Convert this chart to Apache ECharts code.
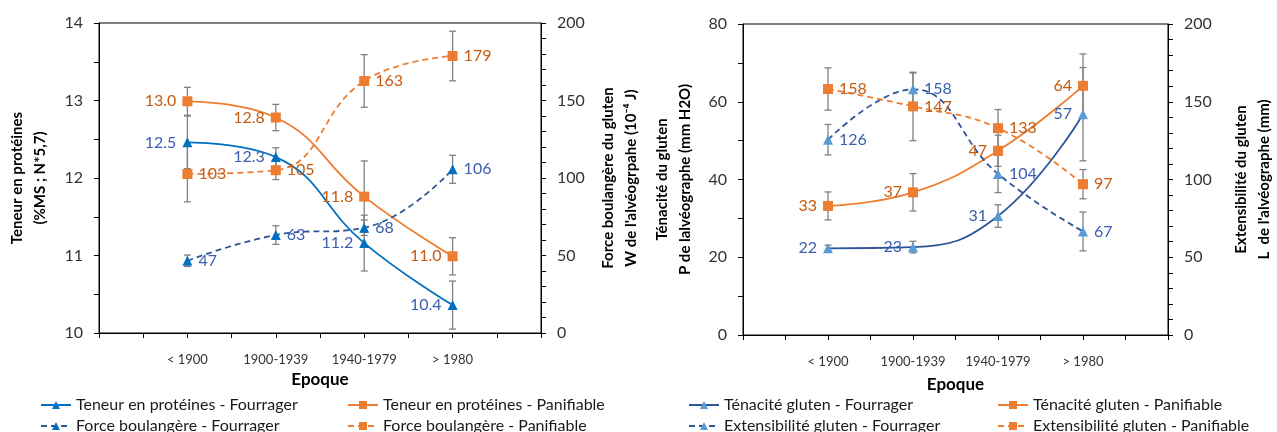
<!DOCTYPE html>
<html>
<head>
<meta charset="utf-8">
<script src="https://cdn.jsdelivr.net/npm/echarts@6/dist/echarts.min.js"></script>
<style>
  html, body { margin: 0; padding: 0; background: #fff; }
  #main { width: 1277px; height: 432px; }
</style>
</head>
<body>
<div id="main"></div>
<script>
// epochs
const categories = ['< 1900', '1900-1939', '1940-1979', '> 1980'];

// left chart : teneur en protéines (left axis) / force boulangère (right axis)
const teneurFourrager = [12.46, 12.27, 11.16, 10.36];
const teneurFourragerErr = [0.34, 0.12, 0.36, 0.31];
const teneurPanifiable = [12.99, 12.78, 11.76, 10.99];
const teneurPanifiableErr = [0.18, 0.17, 0.46, 0.24];
const forceFourrager = [46.6, 63.2, 67.9, 105.6];
const forceFourragerErr = [3.7, 6, 5, 9];
const forcePanifiable = [102.6, 105, 162.6, 178.7];
const forcePanifiableErr = [18, 6, 17, 16];

// right chart : ténacité (left axis) / extensibilité (right axis)
const tenaciteFourrager = [22.3, 22.6, 30.6, 56.8];
const tenaciteFourragerErr = [0.8, 1.5, 2.9, 12];
const tenacitePanifiable = [33.2, 36.7, 47.4, 64.1];
const tenacitePanifiableErr = [3.6, 4.8, 4, 8.2];
const extFourrager = [125.6, 158, 103.6, 66.6];
const extFourragerErr = [9.8, 10.5, 12, 12.5];
const extPanifiable = [158.2, 147, 133, 97];
const extPanifiableErr = [13.6, 22, 12, 9.4];

const FONT = 'Lato';
const BLUE = '#0070C0';
const NAVY = '#2F5597';
const LIGHTBLUE = '#5B9BD5';
const ORANGE = '#ED7D31';
const BLUE_LBL = '#3A5DAE';
const ORANGE_LBL = '#C55A11';

function xAxis(gridIndex, nameGap) {
    return {
        type: 'value', gridIndex: gridIndex, min: 0, max: 5, interval: 0.5,
        name: 'Epoque', nameLocation: 'middle', nameGap: nameGap,
        nameTextStyle: { fontFamily: FONT, fontSize: 17, fontWeight: 'bold', color: '#000' },
        axisLine: { lineStyle: { color: '#000', width: 1 } },
        axisTick: { show: true, length: 5, lineStyle: { color: '#000' } },
        axisLabel: {
            margin: 20, fontFamily: FONT, fontSize: 13, color: '#333',
            formatter: v => (Number.isInteger(v) && v >= 1 && v <= 4) ? categories[v - 1] : ''
        },
        splitLine: { show: false }
    };
}

function yAxis(gridIndex, pos, min, max, interval, labelStep, name, nameGap) {
    return {
        type: 'value', gridIndex: gridIndex, position: pos,
        min: min, max: max, interval: interval,
        name: name, nameLocation: 'middle', nameGap: nameGap, nameRotate: 90,
        nameTextStyle: { fontFamily: FONT, fontSize: 15, fontWeight: 'bold', color: '#000', lineHeight: 23 },
        axisLine: { show: true, lineStyle: { color: '#000', width: 1 } },
        axisTick: { show: true, length: 5, lineStyle: { color: '#000' } },
        axisLabel: {
            margin: 16, fontFamily: FONT, fontSize: 16, color: '#333',
            formatter: v => (Math.abs(v / labelStep - Math.round(v / labelStep)) < 1e-6) ? String(v) : ''
        },
        splitLine: { show: false }
    };
}

function line(name, vals, xi, yi, opt) {
    return {
        name: name, type: 'line', xAxisIndex: xi, yAxisIndex: yi, z: 3,
        data: vals.map((v, i) => [i + 1, v]),
        smooth: 0.45,
        symbol: opt.symbol, symbolSize: 10,
        itemStyle: { color: opt.marker },
        lineStyle: { color: opt.color, width: 1.8, type: opt.dashed ? [6, 4] : 'solid' },
        label: {
            show: true, position: opt.pos, distance: 6,
            fontFamily: FONT, fontSize: 16, color: opt.labelColor,
            formatter: p => p.value[1].toFixed(opt.digits)
        }
    };
}

function errorBars(vals, errs, xi, yi) {
    return {
        type: 'custom', xAxisIndex: xi, yAxisIndex: yi, z: 2, silent: true,
        data: vals.map((v, i) => [i + 1, v - errs[i], v + errs[i]]),
        encode: { x: 0, y: [1, 2] },
        renderItem: (params, api) => {
            const top = api.coord([api.value(0), api.value(2)]);
            const bot = api.coord([api.value(0), api.value(1)]);
            const w = 3.5;
            const st = { stroke: '#808080', lineWidth: 1.3 };
            return {
                type: 'group', children: [
                    { type: 'line', shape: { x1: top[0], y1: top[1], x2: bot[0], y2: bot[1] }, style: st },
                    { type: 'line', shape: { x1: top[0] - w, y1: top[1], x2: top[0] + w, y2: top[1] }, style: st },
                    { type: 'line', shape: { x1: bot[0] - w, y1: bot[1], x2: bot[0] + w, y2: bot[1] }, style: st }
                ]
            };
        }
    };
}

// one legend per entry so the two columns line up like in the original
function legend(name, left, top) {
    return {
        data: [name], left: left, top: top, padding: 0,
        itemWidth: 30, itemHeight: 10, itemGap: 0,
        textStyle: { fontFamily: FONT, fontSize: 16, color: '#1a1a1a' }
    };
}

const myChart = echarts.init(document.getElementById('main'));
const option = {
    animation: false,
    backgroundColor: '#fff',
    grid: [
        { left: 99, right: 736, top: 23, bottom: 99, show: true, borderColor: '#000', borderWidth: 1 },
        { left: 743, right: 101, top: 24, bottom: 97, show: true, borderColor: '#000', borderWidth: 1 }
    ],
    xAxis: [xAxis(0, 36), xAxis(1, 41)],
    yAxis: [
        yAxis(0, 'left', 10, 14, 0.5, 1, 'Teneur en protéines\n(%MS ; N*5,7)', 47),
        yAxis(0, 'right', 0, 200, 10, 50, 'Force boulangère du gluten\nW de l\'alvéogrpahe (10⁻⁴ J)', 56),
        yAxis(1, 'left', 0, 80, 10, 20, 'Ténacité du gluten\nP de lalvéographe (mm H2O)', 46),
        yAxis(1, 'right', 0, 200, 10, 50, 'Extensibilité du gluten\nL  de l\'alvéographe (mm)', 62)
    ],
    legend: [
        legend('Teneur en protéines - Fourrager', 40, 397),
        legend('Force boulangère - Fourrager', 40, 418),
        legend('Teneur en protéines - Panifiable', 347, 397),
        legend('Force boulangère - Panifiable', 347, 418),
        legend('Ténacité gluten - Fourrager', 688, 397),
        legend('Extensibilité gluten - Fourrager', 688, 418),
        legend('Ténacité gluten - Panifiable', 997, 397),
        legend('Extensibilité gluten - Panifiable', 997, 418)
    ],
    series: [
        errorBars(teneurFourrager, teneurFourragerErr, 0, 0),
        errorBars(teneurPanifiable, teneurPanifiableErr, 0, 0),
        errorBars(forceFourrager, forceFourragerErr, 0, 1),
        errorBars(forcePanifiable, forcePanifiableErr, 0, 1),
        errorBars(tenaciteFourrager, tenaciteFourragerErr, 1, 2),
        errorBars(tenacitePanifiable, tenacitePanifiableErr, 1, 2),
        errorBars(extFourrager, extFourragerErr, 1, 3),
        errorBars(extPanifiable, extPanifiableErr, 1, 3),

        line('Teneur en protéines - Fourrager', teneurFourrager, 0, 0,
            { symbol: 'triangle', color: BLUE, marker: BLUE, pos: 'left', labelColor: BLUE_LBL, digits: 1 }),
        line('Teneur en protéines - Panifiable', teneurPanifiable, 0, 0,
            { symbol: 'rect', color: ORANGE, marker: ORANGE, pos: 'left', labelColor: ORANGE_LBL, digits: 1 }),
        line('Force boulangère - Fourrager', forceFourrager, 0, 1,
            { symbol: 'triangle', color: NAVY, marker: BLUE, dashed: true, pos: 'right', labelColor: BLUE_LBL, digits: 0 }),
        line('Force boulangère - Panifiable', forcePanifiable, 0, 1,
            { symbol: 'rect', color: ORANGE, marker: ORANGE, dashed: true, pos: 'right', labelColor: ORANGE_LBL, digits: 0 }),

        line('Ténacité gluten - Fourrager', tenaciteFourrager, 1, 2,
            { symbol: 'triangle', color: NAVY, marker: LIGHTBLUE, pos: 'left', labelColor: BLUE_LBL, digits: 0 }),
        line('Ténacité gluten - Panifiable', tenacitePanifiable, 1, 2,
            { symbol: 'rect', color: ORANGE, marker: ORANGE, pos: 'left', labelColor: ORANGE_LBL, digits: 0 }),
        line('Extensibilité gluten - Fourrager', extFourrager, 1, 3,
            { symbol: 'triangle', color: NAVY, marker: LIGHTBLUE, dashed: true, pos: 'right', labelColor: BLUE_LBL, digits: 0 }),
        line('Extensibilité gluten - Panifiable', extPanifiable, 1, 3,
            { symbol: 'rect', color: ORANGE, marker: ORANGE, dashed: true, pos: 'right', labelColor: ORANGE_LBL, digits: 0 })
    ]
};
myChart.setOption(option);
</script>
</body>
</html>
